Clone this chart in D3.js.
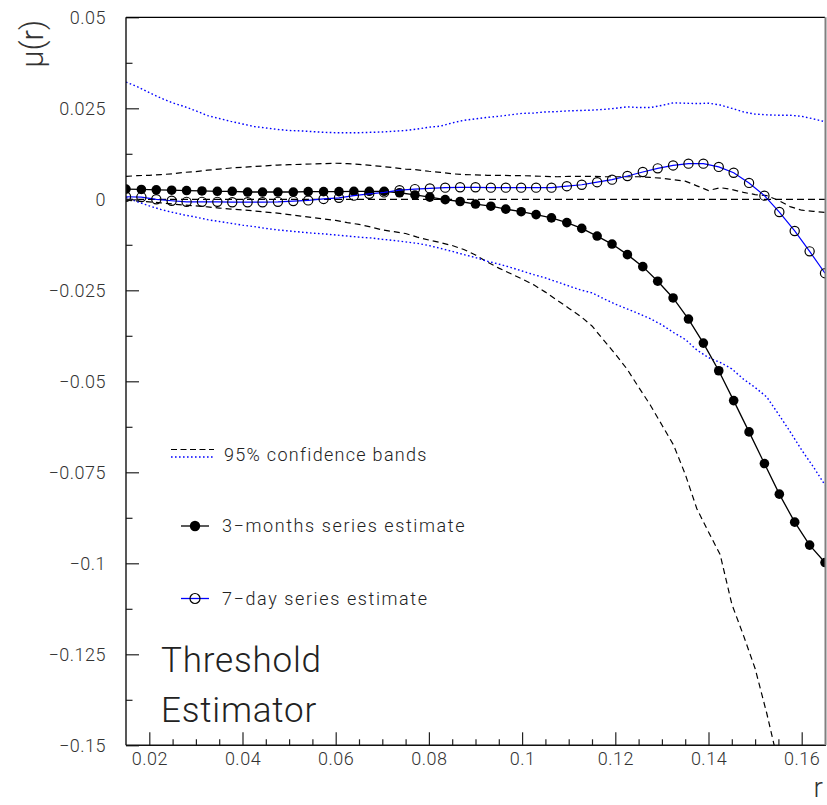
<!DOCTYPE html>
<html>
<head>
<meta charset="utf-8">
<script src="https://cdn.jsdelivr.net/npm/d3@7"></script>
<style>
  html, body { margin: 0; padding: 0; background: #fff; }
  svg { display: block; }
  text { font-family: Roboto, "Liberation Sans", sans-serif; }
</style>
</head>
<body>
<svg id="chart" width="827" height="805"></svg>
<script>
// ---------------- data ----------------
const xMajorTicks = [0.02, 0.04, 0.06, 0.08, 0.10, 0.12, 0.14, 0.16];
const xTickLabels = ["0.02", "0.04", "0.06", "0.08", "0.1", "0.12", "0.14", "0.16"];
const yMajorTicks = [0.05, 0.025, 0, -0.025, -0.05, -0.075, -0.1, -0.125, -0.15];
const yTickLabels = ["0.05", "0.025", "0", "\u22120.025", "\u22120.05", "\u22120.075", "\u22120.1", "\u22120.125", "\u22120.15"];
const xMinorTicks = [0.025, 0.03, 0.035, 0.045, 0.05, 0.055, 0.065, 0.07, 0.075, 0.085, 0.09, 0.095,
  0.105, 0.11, 0.115, 0.125, 0.13, 0.135, 0.145, 0.15, 0.155];
const yMinorTicks = [0.0375, 0.0125, -0.0125, -0.0375, -0.0625, -0.0875, -0.1125, -0.1375];

// estimate points (r)
const rEstimate = [0.0150, 0.0183, 0.0215, 0.0248, 0.0280, 0.0313, 0.0346, 0.0378, 0.0411, 0.0443,
  0.0476, 0.0509, 0.0541, 0.0574, 0.0607, 0.0639, 0.0672, 0.0704, 0.0737, 0.0770,
  0.0802, 0.0835, 0.0867, 0.0900, 0.0933, 0.0965, 0.0998, 0.1030, 0.1063, 0.1096,
  0.1128, 0.1161, 0.1193, 0.1226, 0.1259, 0.1291, 0.1324, 0.1357, 0.1389, 0.1422,
  0.1454, 0.1487, 0.1520, 0.1552, 0.1585, 0.1617, 0.1650];

const threeMonths = [0.0028, 0.0027, 0.0026, 0.0025, 0.0024, 0.0023, 0.0022, 0.0022, 0.0020, 0.0020,
  0.0020, 0.0020, 0.0021, 0.0021, 0.0021, 0.0022, 0.0022, 0.0022, 0.0018, 0.0012,
  0.0006, -0.0001, -0.0006, -0.0013, -0.0019, -0.0027, -0.0034, -0.0042, -0.0051, -0.0064,
  -0.0080, -0.0101, -0.0123, -0.0152, -0.0185, -0.0225, -0.0271, -0.0329, -0.0395, -0.0471,
  -0.0553, -0.0639, -0.0726, -0.0810, -0.0887, -0.0950, -0.0998];

const sevenDay = [0.0007, 0.0006, 0.0000, -0.0004, -0.0007, -0.0007, -0.0007, -0.0008, -0.0008, -0.0008,
  -0.0007, -0.0005, -0.0003, 0.0001, 0.0004, 0.0010, 0.0015, 0.0019, 0.0025, 0.0028,
  0.0030, 0.0032, 0.0033, 0.0033, 0.0032, 0.0032, 0.0032, 0.0032, 0.0032, 0.0036,
  0.0040, 0.0047, 0.0054, 0.0064, 0.0075, 0.0085, 0.0093, 0.0098, 0.0098, 0.0089,
  0.0073, 0.0045, 0.0010, -0.0035, -0.0087, -0.0143, -0.0203];

// confidence bands (r grid)
const rBand = [0.0150, 0.0175, 0.0200, 0.0225, 0.0250, 0.0275, 0.0300, 0.0325, 0.0350, 0.0375,
  0.0400, 0.0425, 0.0450, 0.0475, 0.0500, 0.0525, 0.0550, 0.0575, 0.0600, 0.0625,
  0.0650, 0.0675, 0.0700, 0.0725, 0.0750, 0.0775, 0.0800, 0.0825, 0.0850, 0.0875,
  0.0900, 0.0925, 0.0950, 0.0975, 0.1000, 0.1025, 0.1050, 0.1075, 0.1100, 0.1125,
  0.1150, 0.1175, 0.1200, 0.1225, 0.1250, 0.1275, 0.1300, 0.1325, 0.1350, 0.1375,
  0.1400, 0.1425, 0.1450, 0.1475, 0.1500, 0.1525, 0.1550, 0.1575, 0.1600, 0.1625, 0.1650];

const upper3m = [0.0063, 0.0065, 0.0066, 0.0068, 0.0070, 0.0074, 0.0076, 0.0080, 0.0083, 0.0086,
  0.0088, 0.0090, 0.0092, 0.0094, 0.0095, 0.0096, 0.0097, 0.0098, 0.0099, 0.0098,
  0.0096, 0.0093, 0.0090, 0.0087, 0.0083, 0.0081, 0.0077, 0.0074, 0.0070, 0.0068,
  0.0067, 0.0066, 0.0066, 0.0065, 0.0065, 0.0064, 0.0063, 0.0062, 0.0063, 0.0063,
  0.0063, 0.0062, 0.0062, 0.0062, 0.0062, 0.0060, 0.0058, 0.0054, 0.0050, 0.0037,
  0.0024, 0.0032, 0.0027, 0.0019, 0.0013, 0.0010, -0.0003, -0.0020, -0.0030, -0.0033, -0.0036];

const lower3m = [-0.0002, -0.0005, -0.0007, -0.0010, -0.0013, -0.0016, -0.0018, -0.0021, -0.0024, -0.0027,
  -0.0029, -0.0032, -0.0035, -0.0038, -0.0042, -0.0046, -0.0050, -0.0054, -0.0058, -0.0064,
  -0.0069, -0.0076, -0.0084, -0.0089, -0.0094, -0.0104, -0.0112, -0.0119, -0.0127, -0.0138,
  -0.0153, -0.0172, -0.0189, -0.0204, -0.0219, -0.0235, -0.0255, -0.0277, -0.0299, -0.0321,
  -0.0348, -0.0387, -0.0425, -0.0466, -0.0516, -0.0565, -0.0620, -0.0675, -0.0755, -0.0850,
  -0.0914, -0.0976, -0.1112, -0.1198, -0.1289, -0.1412, -0.1550];

const upper7d = [0.0322, 0.0309, 0.0293, 0.0278, 0.0265, 0.0255, 0.0243, 0.0230, 0.0222, 0.0214,
  0.0207, 0.0200, 0.0196, 0.0192, 0.0189, 0.0188, 0.0186, 0.0184, 0.0183, 0.0183,
  0.0183, 0.0184, 0.0185, 0.0187, 0.0189, 0.0193, 0.0198, 0.0201, 0.0210, 0.0217,
  0.0221, 0.0225, 0.0228, 0.0232, 0.0236, 0.0237, 0.0240, 0.0241, 0.0243, 0.0244,
  0.0245, 0.0247, 0.0250, 0.0254, 0.0252, 0.0252, 0.0258, 0.0265, 0.0264, 0.0263,
  0.0264, 0.0259, 0.0250, 0.0240, 0.0234, 0.0232, 0.0231, 0.0231, 0.0228, 0.0221, 0.0213];

const lower7d = [0.0005, -0.0007, -0.0018, -0.0028, -0.0036, -0.0043, -0.0049, -0.0056, -0.0061, -0.0066,
  -0.0071, -0.0075, -0.0080, -0.0084, -0.0087, -0.0090, -0.0093, -0.0095, -0.0098, -0.0101,
  -0.0104, -0.0106, -0.0110, -0.0113, -0.0117, -0.0121, -0.0127, -0.0135, -0.0143, -0.0152,
  -0.0160, -0.0170, -0.0178, -0.0187, -0.0197, -0.0207, -0.0216, -0.0227, -0.0238, -0.0249,
  -0.0257, -0.0273, -0.0288, -0.0301, -0.0314, -0.0328, -0.0345, -0.0366, -0.0385, -0.0414,
  -0.0435, -0.0448, -0.0466, -0.0494, -0.0517, -0.0543, -0.0590, -0.0638, -0.0689, -0.0735, -0.0785];

// ---------------- chart ----------------
const svg = d3.select("#chart");
const L = 126, R = 825, T = 17.3, B = 745.3;
const x = d3.scaleLinear().domain([0.015, 0.165]).range([L, R]);
const y = d3.scaleLinear().domain([-0.15, 0.05]).range([B, T]);

svg.append("defs").append("clipPath").attr("id", "plotclip")
  .append("rect").attr("x", L).attr("y", T).attr("width", R - L).attr("height", B - T);

const plot = svg.append("g").attr("clip-path", "url(#plotclip)");

const line = d3.line().x(d => x(d[0])).y(d => y(d[1]));
const zip = (xs, ys) => ys.map((v, i) => [xs[i], v]);

// zero line
plot.append("path")
  .attr("d", line([[0.015, 0], [0.165, 0]]))
  .attr("fill", "none").attr("stroke", "#000").attr("stroke-width", 1.2)
  .attr("stroke-dasharray", "7,4");

const dashed = {stroke: "#000", dash: "6,4", w: 1.2};
const dotted = {stroke: "#0000ff", dash: "1.6,2.4", w: 1.4};

function band(vals, st) {
  plot.append("path").attr("d", line(zip(rBand, vals)))
    .attr("fill", "none").attr("stroke", st.stroke).attr("stroke-width", st.w)
    .attr("stroke-dasharray", st.dash);
}
band(upper3m, dashed);
band(lower3m, dashed);
band(upper7d, dotted);
band(lower7d, dotted);

// 3-months series
const d3m = zip(rEstimate, threeMonths);
plot.append("path").attr("d", line(d3m)).attr("fill", "none")
  .attr("stroke", "#000").attr("stroke-width", 1.3);
plot.selectAll("circle.m3").data(d3m).enter().append("circle")
  .attr("class", "m3").attr("cx", d => x(d[0])).attr("cy", d => y(d[1]))
  .attr("r", 4.8).attr("fill", "#000");

// 7-day series
const d7 = zip(rEstimate, sevenDay);
plot.append("path").attr("d", line(d7)).attr("fill", "none")
  .attr("stroke", "#0000ff").attr("stroke-width", 1.2);
plot.selectAll("circle.d7").data(d7).enter().append("circle")
  .attr("class", "d7").attr("cx", d => x(d[0])).attr("cy", d => y(d[1]))
  .attr("r", 4.6).attr("fill", "none").attr("stroke", "#000").attr("stroke-width", 1.2);

// axes
const axisFont = g => g.selectAll("text").attr("font-size", 18).attr("font-weight", 300)
  .attr("fill", "#333").attr("letter-spacing", 0.5).attr("font-family", "Roboto, sans-serif");

const yAxis = svg.append("g").attr("transform", `translate(${L},0)`)
  .call(d3.axisLeft(y).tickValues(yMajorTicks).tickSizeInner(-13).tickSizeOuter(0)
    .tickPadding(20).tickFormat((d, i) => yTickLabels[i]));
yAxis.select(".domain").remove();
yAxis.selectAll("line").attr("stroke", "#222").attr("stroke-width", 1.2);
yAxis.call(axisFont);

const yMinor = svg.append("g").attr("transform", `translate(${L},0)`)
  .call(d3.axisLeft(y).tickValues(yMinorTicks).tickSizeInner(-6.5).tickSizeOuter(0).tickFormat(""));
yMinor.select(".domain").remove();
yMinor.selectAll("line").attr("stroke", "#222").attr("stroke-width", 1.2);

const xAxis = svg.append("g").attr("transform", `translate(0,${B})`)
  .call(d3.axisBottom(x).tickValues(xMajorTicks).tickSizeInner(-13).tickSizeOuter(0)
    .tickPadding(7).tickFormat((d, i) => xTickLabels[i]));
xAxis.select(".domain").remove();
xAxis.selectAll("line").attr("stroke", "#222").attr("stroke-width", 1.2);
xAxis.call(axisFont);

const xMinor = svg.append("g").attr("transform", `translate(0,${B})`)
  .call(d3.axisBottom(x).tickValues(xMinorTicks).tickSizeInner(-6).tickSizeOuter(0).tickFormat(""));
xMinor.select(".domain").remove();
xMinor.selectAll("line").attr("stroke", "#222").attr("stroke-width", 1.2);

// frame
svg.append("line").attr("x1", L).attr("x2", R).attr("y1", T).attr("y2", T)
  .attr("stroke", "#000").attr("stroke-width", 1.2);
svg.append("line").attr("x1", L).attr("x2", L).attr("y1", T).attr("y2", B)
  .attr("stroke", "#111").attr("stroke-width", 1.4);
svg.append("line").attr("x1", L).attr("x2", R + 1).attr("y1", B).attr("y2", B)
  .attr("stroke", "#111").attr("stroke-width", 1.6);
svg.append("line").attr("x1", R + 0.5).attr("x2", R + 0.5).attr("y1", T).attr("y2", B)
  .attr("stroke", "#808080").attr("stroke-width", 2);

// axis titles
svg.append("text").attr("transform", "translate(43,20) rotate(-90)")
  .attr("text-anchor", "end").attr("font-size", 31).attr("font-weight", 300)
  .attr("fill", "#333").text("\u03bc(r)");
svg.append("text").attr("x", 823).attr("y", 797).attr("text-anchor", "end")
  .attr("font-size", 28).attr("font-weight", 300).attr("fill", "#333").text("r");

// legend
const lg = svg.append("g");
lg.append("line").attr("x1", 171).attr("x2", 214).attr("y1", 449.5).attr("y2", 449.5)
  .attr("stroke", "#000").attr("stroke-width", 1.2).attr("stroke-dasharray", "6,3.5");
lg.append("line").attr("x1", 171).attr("x2", 214).attr("y1", 457).attr("y2", 457)
  .attr("stroke", "#0000ff").attr("stroke-width", 1.4).attr("stroke-dasharray", "1.6,2.4");
lg.append("text").attr("x", 224).attr("y", 461).attr("font-size", 18).attr("font-weight", 300)
  .attr("letter-spacing", 1.3).attr("fill", "#222").text("95% confidence bands");

lg.append("line").attr("x1", 181).attr("x2", 209).attr("y1", 526).attr("y2", 526)
  .attr("stroke", "#000").attr("stroke-width", 1.3);
lg.append("circle").attr("cx", 195).attr("cy", 526).attr("r", 5.2).attr("fill", "#000");
lg.append("text").attr("x", 222).attr("y", 532).attr("font-size", 18).attr("font-weight", 300)
  .attr("letter-spacing", 1.6).attr("fill", "#222").text("3\u2212months series estimate");

lg.append("line").attr("x1", 181).attr("x2", 209).attr("y1", 598.5).attr("y2", 598.5)
  .attr("stroke", "#0000ff").attr("stroke-width", 1.3);
lg.append("circle").attr("cx", 195).attr("cy", 598.5).attr("r", 5).attr("fill", "none")
  .attr("stroke", "#000").attr("stroke-width", 1.2);
lg.append("text").attr("x", 222).attr("y", 605).attr("font-size", 18).attr("font-weight", 300)
  .attr("letter-spacing", 1.6).attr("fill", "#222").text("7\u2212day series estimate");

// annotation
svg.append("text").attr("x", 161).attr("y", 672).attr("font-size", 35).attr("font-weight", 300)
  .attr("letter-spacing", 0.8).attr("fill", "#222").text("Threshold");
svg.append("text").attr("x", 161).attr("y", 722).attr("font-size", 35).attr("font-weight", 300)
  .attr("letter-spacing", 0.8).attr("fill", "#222").text("Estimator");
</script>
</body>
</html>
